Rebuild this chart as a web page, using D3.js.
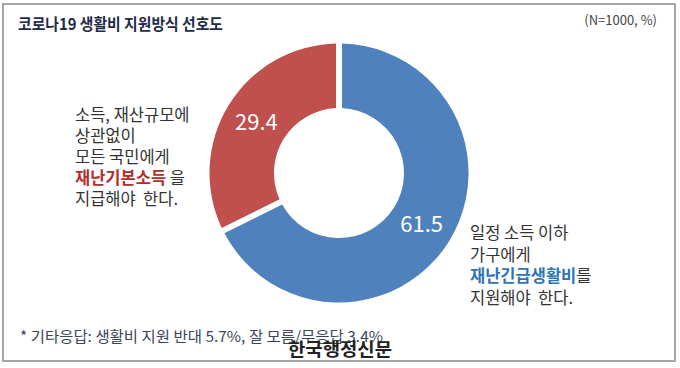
<!DOCTYPE html>
<html>
<head>
<meta charset="utf-8">
<script src="https://cdn.jsdelivr.net/npm/d3@7/dist/d3.min.js"></script>
<style>
  html, body { margin: 0; padding: 0; background: #fff; }
  svg { display: block; }
  text { font-family: "Noto Sans CJK KR", "Noto Sans", sans-serif; white-space: pre; }
</style>
</head>
<body>
<svg id="chart" width="680" height="368"></svg>
<script>
const categories = ["재난긴급생활비", "재난기본소득"];
const values = [61.5, 29.4];
const colors = ["#4f81bd", "#c0504d"];
const title = "코로나19 생활비 지원방식 선호도";
const note = "(N=1000, %)";
const footer = "* 기타응답: 생활비 지원 반대 5.7%, 잘 모름/무응답 3.4%";
const watermark = "한국행정신문";
const leftLines = [
  [{t: "소득, 재산규모에"}],
  [{t: "상관없이"}],
  [{t: "모든 국민에게"}],
  [{t: "재난기본소득", em: "#b22d2b"}, {t: " 을"}],
  [{t: "지급해야\u00a0\u00a0한다."}]
];
const rightLines = [
  [{t: "일정 소득 이하"}],
  [{t: "가구에게"}],
  [{t: "재난긴급생활비", em: "#2e75b6"}, {t: "를"}],
  [{t: "지원해야\u00a0\u00a0한다."}]
];

const svg = d3.select("#chart");

// frame
svg.append("rect").attr("x", 3).attr("y", 4).attr("width", 672).attr("height", 357)
  .attr("fill", "#fff").attr("stroke", "#a6a6a6").attr("stroke-width", 2);

// title
svg.append("text").attr("x", 18).attr("y", 30).attr("font-size", 16).attr("font-weight", "bold")
  .attr("fill", "#1f2b48").attr("textLength", 205).attr("lengthAdjust", "spacingAndGlyphs").text(title);
svg.append("text").attr("x", 657).attr("y", 25).attr("text-anchor", "end").attr("font-size", 13)
  .attr("fill", "#444").text(note);

// donut
const cx = 339, cy = 173, R = 129.5, r = 65;
const pie = d3.pie().sort(null).value(d => d)(values);
const arc = d3.arc().innerRadius(r).outerRadius(R).padAngle(6 / R).padRadius(R);
const g = svg.append("g").attr("transform", `translate(${cx},${cy})`);
g.selectAll("path").data(pie).join("path").attr("d", arc).attr("fill", (d, i) => colors[i]);
const labelArc = d3.arc().innerRadius(r).outerRadius(R);
g.selectAll("text.val").data(pie).join("text").attr("class", "val")
  .attr("transform", d => `translate(${labelArc.centroid(d)})`)
  .attr("text-anchor", "middle").attr("dy", "0.36em")
  .attr("font-family", "Roboto, sans-serif").attr("font-size", 22).attr("fill", "#fff")
  .text(d => d.data.toFixed(1));

function block(lines, x, y0, lh) {
  const t = svg.append("text").attr("font-size", 16.5).attr("fill", "#333");
  lines.forEach((parts, i) => {
    parts.forEach((p, j) => {
      const ts = t.append("tspan").text(p.t);
      if (j === 0) ts.attr("x", x).attr("y", y0 + i * lh);
      if (p.em) ts.attr("fill", p.em).attr("font-weight", "bold");
    });
  });
}
block(leftLines, 75, 121, 21);
block(rightLines, 470, 239, 21.5);

// footer
svg.append("text").attr("x", 20).attr("y", 342).attr("font-size", 15).attr("fill", "#3d4556")
  .attr("textLength", 363).attr("lengthAdjust", "spacingAndGlyphs").text(footer);
svg.append("text").attr("x", 288).attr("y", 356).attr("font-size", 18).attr("font-weight", "bold")
  .attr("fill", "#222").attr("textLength", 104).attr("lengthAdjust", "spacingAndGlyphs").text(watermark);
</script>
</body>
</html>
